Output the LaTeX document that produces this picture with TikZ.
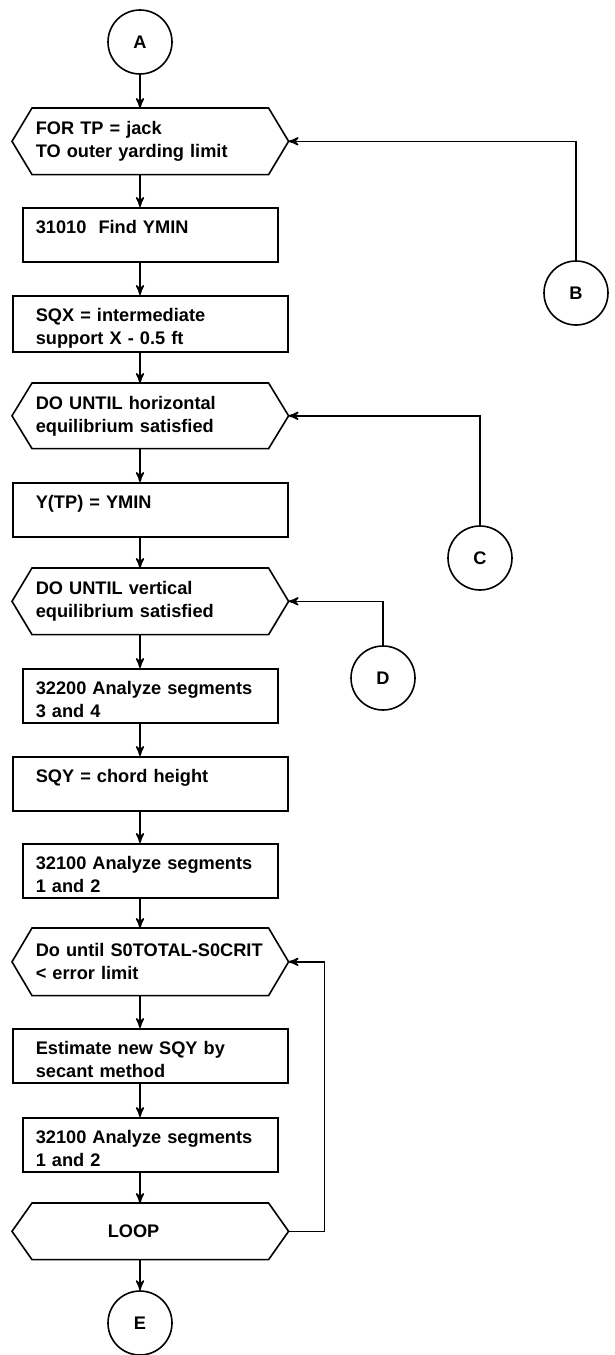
\documentclass[tikz,border=0pt]{standalone}
\usepackage{fontspec}
\setmainfont{Liberation Sans}
\usetikzlibrary{arrows}

\tikzset{
  textbox/.style={anchor=north west, align=left, text width=114.5pt, inner ysep=2pt},
  flowbox/.style={textbox, draw, rectangle, minimum height=27pt,
    execute at begin node={\rule{0pt}{10.6pt}}},
  widebox/.style={flowbox, inner xsep=11.5pt},
  narrowbox/.style={flowbox, inner xsep=6.5pt},
  hexbox/.style={textbox, inner xsep=11.5pt, minimum height=#1},
  conn/.style={draw, circle, minimum size=32pt, inner sep=0pt}
}

\newcommand{\hexoutline}[1]{%
  \draw ([xshift=10pt]#1.north west) -- ([xshift=-10pt]#1.north east) -- (#1.east)
    -- ([xshift=-10pt]#1.south east) -- ([xshift=10pt]#1.south west) -- (#1.west) -- cycle;}

\begin{document}
\begin{tikzpicture}[x=0.5pt, y=-0.5pt, thick, >=stealth',
  font=\fontsize{9.1pt}{11.5pt}\selectfont\bfseries]
\useasboundingbox (0,0) rectangle (615,1355);

\node[conn] (a) at (140,42) {A};
\node[hexbox=32.5pt] (for) at (12,108) {FOR TP = jack\\TO outer yarding limit};
\node[narrowbox] (find) at (22,207) {31010\ \ Find YMIN\\\mbox{}};
\node[widebox] (sqx) at (12,295) {SQX = intermediate\\support X - 0.5 ft};
\node[hexbox=32pt] (horiz) at (12,383) {DO UNTIL horizontal\\equilibrium satisfied};
\node[widebox] (ytp) at (12,482) {Y(TP) = YMIN\\\mbox{}};
\node[hexbox=32.5pt] (vert) at (12,568) {DO UNTIL vertical\\equilibrium satisfied};
\node[narrowbox] (seg34) at (22,668) {32200 Analyze segments\\3 and 4};
\node[widebox] (sqy) at (12,756) {SQY = chord height\\\mbox{}};
\node[narrowbox] (seg12) at (22,843) {32100 Analyze segments\\1 and 2};
\node[hexbox=33pt] (until) at (12,928) {\mbox{Do until S0TOTAL-S0CRIT}\\< error limit};
\node[widebox] (secant) at (12,1028) {Estimate new SQY by\\secant method};
\node[narrowbox] (segb) at (22,1117) {32100 Analyze segments\\1 and 2};
\node[hexbox=27.5pt] (loop) at (12,1203) {\hspace*{36pt}LOOP};
\node[conn] (e) at (140,1323) {E};

\node[conn] (b) at (576,293) {B};
\node[conn] (c) at (480,558) {C};
\node[conn] (d) at (383,678) {D};

\foreach \h in {for,horiz,vert,until,loop} \hexoutline{\h};

\draw[->] (a) -- (a |- for.north);
\foreach \u/\v in {for/find, find/sqx, sqx/horiz, horiz/ytp, ytp/vert, vert/seg34,
    seg34/sqy, sqy/seg12, seg12/until, until/secant, secant/segb, segb/loop}
  \draw[->] (\u.south -| a) -- (\v.north -| a);
\draw[->] (loop.south -| a) -- (e);

\draw[->] (b) |- (for.east);
\draw[->] (c) |- (horiz.east);
\draw[->] (d) |- (vert.east);
\draw[->] (loop.east) -- ++(18pt,0) |- (until.east);
\end{tikzpicture}
\end{document}
